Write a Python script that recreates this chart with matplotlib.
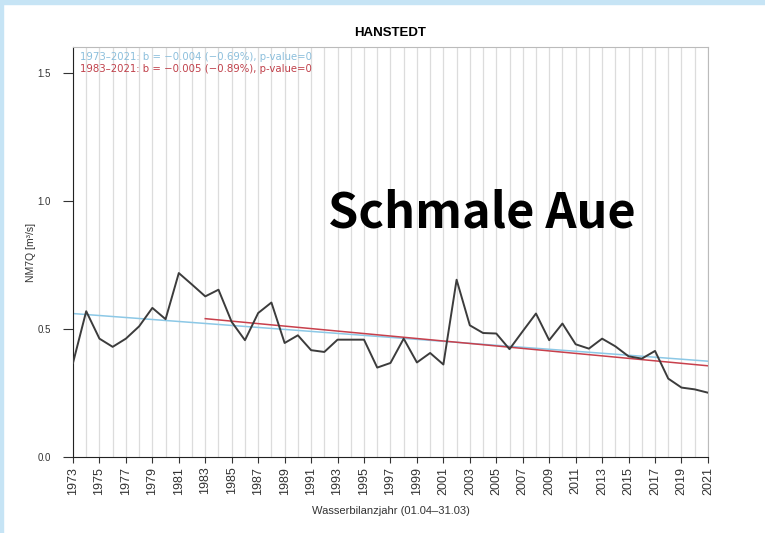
import matplotlib
matplotlib.use("Agg")
import matplotlib.pyplot as plt
from matplotlib.patches import Rectangle

# NM7Q je Wasserbilanzjahr
years = list(range(1973, 2022))
nm7q = [0.367, 0.569, 0.462, 0.430, 0.462, 0.51, 0.582, 0.538, 0.718, 0.673,
        0.627, 0.653, 0.527, 0.456, 0.562, 0.603, 0.445, 0.475, 0.417, 0.410,
        0.458, 0.458, 0.458, 0.349, 0.367, 0.462, 0.369, 0.406, 0.361, 0.692,
        0.514, 0.484, 0.482, 0.421, 0.491, 0.560, 0.456, 0.521, 0.440, 0.423,
        0.462, 0.432, 0.393, 0.384, 0.414, 0.306, 0.271, 0.264, 0.251]

# Trendlinien (Start/Ende)
trend_long_years = [1973, 2021]
trend_long_vals = [0.560, 0.374]
trend_short_years = [1983, 2021]
trend_short_vals = [0.540, 0.356]

label_long = "1973\u20132021: b = \u22120.004 (\u22120.69%), p-value=0"
label_short = "1983\u20132021: b = \u22120.005 (\u22120.89%), p-value=0"

yticks = [0.0, 0.5, 1.0, 1.5]
xticks = list(range(1973, 2022, 2))

plt.rcParams["font.family"] = ["Liberation Sans", "DejaVu Sans"]

fig = plt.figure(figsize=(7.65, 5.33), dpi=100)
# hellblauer Rahmen oben/links
fig.patches.append(Rectangle((0, 1 - 4 / 533), 1, 4 / 533, transform=fig.transFigure,
                             color="#c6e4f5", zorder=0))
fig.patches.append(Rectangle((0, 0), 3 / 765, 1, transform=fig.transFigure,
                             color="#c6e4f5", zorder=0))

ax = fig.add_axes([0.0954, 0.1426, 0.830, 0.769])

for yr in years:
    ax.axvline(yr, color="#dcdcdc", linewidth=0.9, zorder=0)

ax.plot(years, nm7q, color="#3c3c3c", linewidth=1.4, zorder=3)
ax.plot(trend_long_years, trend_long_vals, color="#8cc8e6", linewidth=1.1, zorder=2)
ax.plot(trend_short_years, trend_short_vals, color="#c8404c", linewidth=1.1, zorder=2)

ax.text(1973.5, 1.560, label_long, color="#8cbfdc", fontsize=7.3,
        family="DejaVu Sans", va="center")
ax.text(1973.5, 1.515, label_short, color="#c0404a", fontsize=7.3,
        family="DejaVu Sans", va="center")

ax.set_xlim(1973, 2021)
ax.set_ylim(0, 1.6)
ax.set_xticks(xticks)
ax.set_xticklabels([str(x) for x in xticks], rotation=90, fontsize=9,
                   color="#333333")
ax.set_yticks(yticks)
ax.set_yticklabels([f"{v:.1f}" for v in yticks], fontsize=7, color="#333333")
ax.tick_params(axis="x", length=4, width=0.8, color="#333333", pad=3)
ax.tick_params(axis="y", length=7, width=0.8, color="#333333", pad=9)

for side in ["top", "right"]:
    ax.spines[side].set_color("#bbbbbb")
for side in ["left", "bottom"]:
    ax.spines[side].set_color("#222222")

ax.set_title("HANSTEDT", fontsize=9.5, fontweight="bold", pad=8)
ax.set_ylabel("NM7Q [m\u00b3/s]", fontsize=7.5, color="#333333", labelpad=1)
ax.set_xlabel("Wasserbilanzjahr (01.04\u201331.03)", fontsize=8, color="#333333", labelpad=8)

fig.text(0.630, 0.60, "Schmale Aue", fontsize=35, fontweight="bold",
         family=["Noto Sans CJK KR", "DejaVu Sans"], ha="center", va="center")

fig.savefig("out.png", dpi=100)
plt.close()
